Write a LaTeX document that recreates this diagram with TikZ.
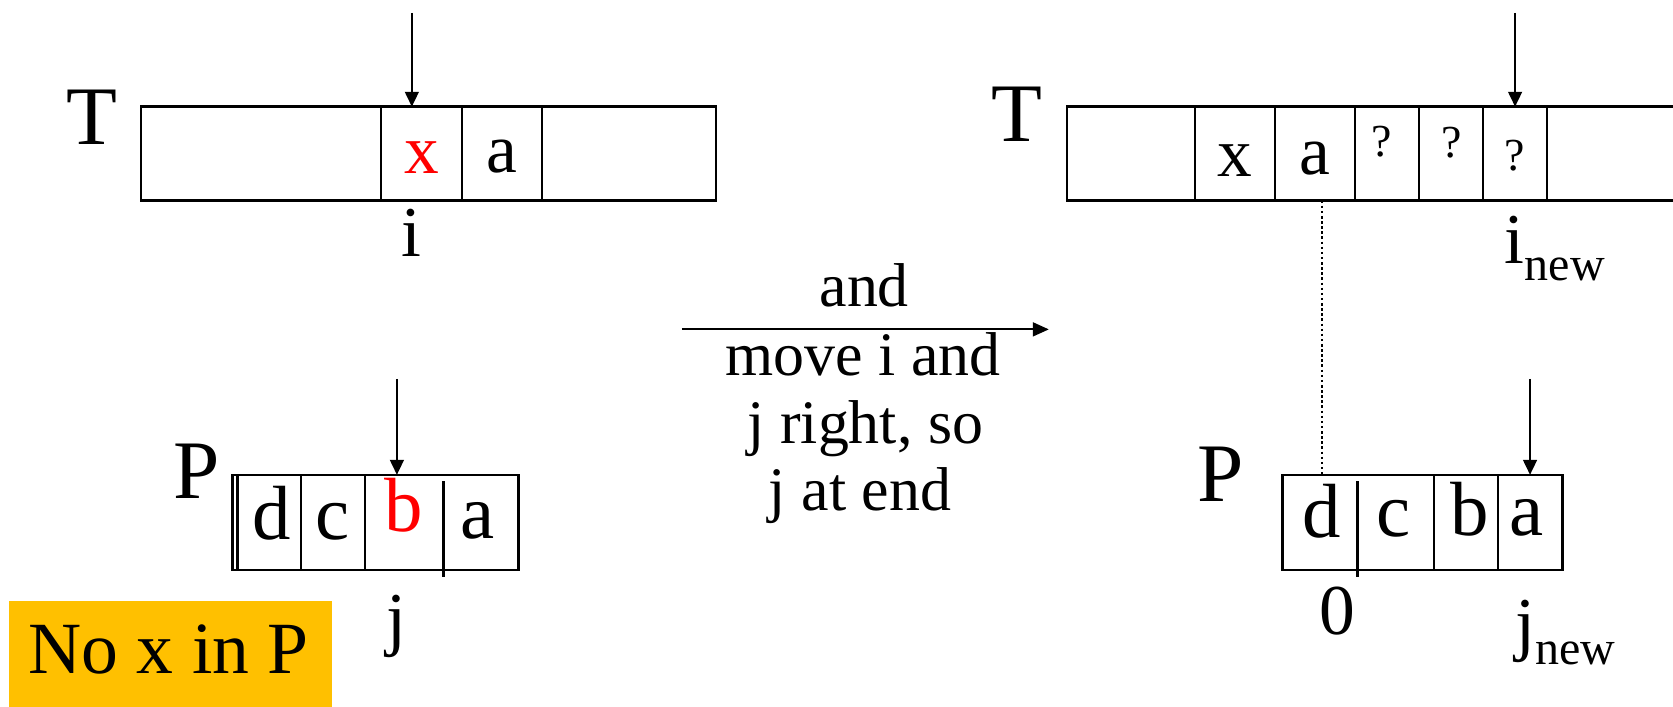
\documentclass[tikz,border=0pt]{standalone}
\usepackage{fontspec}
\setmainfont{Liberation Serif}
\usetikzlibrary{arrows.meta}
\definecolor{gold}{HTML}{FFC000}
\begin{document}
\begin{tikzpicture}[x=0.5pt,y=-0.5pt,
  inner sep=0pt,
  box/.style={line width=1.15pt},
  ptr/.style={line width=0.9pt,-{Triangle[length=7pt,width=6.5pt]}},
  big/.style={font=\fontsize{39}{39}\selectfont, anchor=base},
  celltxt/.style={font=\fontsize{32.5}{32.5}\selectfont, anchor=base},
  pcell/.style={font=\fontsize{36}{36}\selectfont, anchor=base},
  lbl/.style={font=\fontsize{33.5}{33.5}\selectfont, anchor=base},
  qm/.style={font=\fontsize{21.5}{21.5}\selectfont, anchor=base},
  mid/.style={font=\fontsize{29}{29}\selectfont, anchor=base},
  note/.style={font=\fontsize{34.5}{34.5}\selectfont, anchor=base}]
\useasboundingbox (0,0) rectangle (1568,662);

% ---------- top-left T ----------
\node[big] (T1) at (86,135) {T};
\draw[box] (132,100) rectangle (671,188);
\draw[box] (357,100) -- (357,188) (433,100) -- (433,188) (508,100) -- (508,188);
\node[celltxt, text=red] (t1x) at (395,163) {x};
\node[celltxt] (t1a) at (470.5,162) {a};
\coordinate (a1s) at (386,12);
\coordinate (a1e) at (386,100);
\draw[ptr] (a1s) -- (a1e);
\node[lbl] (li) at (386,240) {i};

% ---------- bottom-left P ----------
\node[big] (P1) at (184,467) {P};
\draw[box] (218,445) rectangle (486,534);
\draw[box] (222.5,445) -- (222.5,534);
\draw[box] (282,445) -- (282,534) (342,445) -- (342,534) (415.6,451) -- (415.6,541);
\node[pcell] (p1d) at (254.7,506) {d};
\node[pcell] (p1c) at (312,506) {c};
\node[pcell, text=red] (p1b) at (378,498) {b};
\node[pcell] (p1a) at (448,505) {a};
\coordinate (a2s) at (372,355);
\coordinate (a2e) at (372,445);
\draw[ptr] (a2s) -- (a2e);
\node[lbl] (lj) at (372,602) {j};

% ---------- note ----------
\fill[gold] (8,563) rectangle (311,670);
\node[note] (nox) at (158,631) {No x in P};

% ---------- middle ----------
\node[mid] (m0) at (810,287.5) {and};
\coordinate (ma) at (639,308.7);
\coordinate (mb) at (983,308.7);
\draw[line width=1pt,-{Triangle[length=7.5pt,width=6.5pt]}] (ma) -- (mb);
\node[mid] (m1) at (809,351.6) {move i and};
\node[mid] (m2) at (811,415.6) {j right, so};
\node[mid] (m3) at (806,478) {j at end};

% ---------- top-right T ----------
\node[big] (T2) at (953,133) {T};
\draw[box] (1570,100) -- (1000,100) -- (1000,188) -- (1570,188);
\foreach \xx in {1120,1195,1270,1330,1390,1450}
  \draw[box] (\xx,100) -- (\xx,188);
\node[celltxt] (t2x) at (1157.5,165) {x};
\node[celltxt] (t2a) at (1232.5,164) {a};
\node[qm] (q1) at (1295,147) {?};
\node[qm] (q2) at (1361,148) {?};
\node[qm] (q3) at (1420,160) {?};
\coordinate (a3s) at (1420,12);
\coordinate (a3e) at (1420,100);
\draw[ptr] (a3s) -- (a3e);
\node[lbl, anchor=base west] (linew) at (1410,247) {i\raisebox{-8pt}{\fontsize{22.5}{22.5}\selectfont new}};

% dotted alignment line
\coordinate (d1) at (1239,188);
\coordinate (d2) at (1239,445);
\draw[line width=0.8pt, dash pattern=on 1.2pt off 1.2pt] (d1) -- (d2);

% ---------- bottom-right P ----------
\node[big] (P2) at (1144,470) {P};
\draw[box] (1202,445) rectangle (1464.5,534);
\draw[box] (1272.4,451) -- (1272.4,541) (1344,445) -- (1344,534) (1404.2,445) -- (1404.2,534);
\node[pcell] (p2d) at (1238.7,504) {d};
\node[pcell] (p2c) at (1306,503) {c};
\node[pcell] (p2b) at (1377.6,502) {b};
\node[pcell] (p2a) at (1431,502) {a};
\coordinate (a4s) at (1434,355);
\coordinate (a4e) at (1434,445);
\draw[ptr] (a4s) -- (a4e);
\node[lbl] (l0) at (1253,595) {0};
\node[lbl, anchor=base west] (ljnew) at (1420,607) {j\raisebox{-8pt}{\fontsize{22.5}{22.5}\selectfont new}};
\end{tikzpicture}
\end{document}
